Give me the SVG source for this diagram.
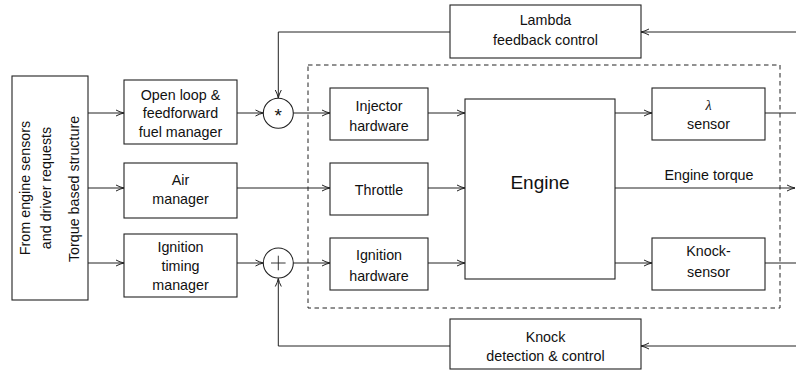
<svg xmlns="http://www.w3.org/2000/svg" width="796" height="372" viewBox="0 0 796 372">
<defs>
<marker id="arr" markerUnits="userSpaceOnUse" markerWidth="12" markerHeight="10" viewBox="-10 -5 12 10" refX="0" refY="0" orient="auto">
<path d="M-8,-3 Q-4,-0.8 0,0 Q-4,0.8 -8,3" fill="none" stroke="#222" stroke-width="1"/>
</marker>
</defs>
<style>
.box{fill:#fff;stroke:#222;stroke-width:1.1}
.t{font-family:"Liberation Sans",Arial,sans-serif;font-size:14.3px;fill:#111;text-anchor:middle}
.c{fill:none;stroke:#222;stroke-width:1}
.a{fill:none;stroke:#222;stroke-width:1;marker-end:url(#arr)}
</style>
<rect width="796" height="372" fill="#fff"/>
<g id="plant">
<rect x="308" y="65" width="472" height="243" fill="none" stroke="#222" stroke-width="1" stroke-dasharray="4.5,3.5"/>
</g>
<g id="connectors">
<line class="a" x1="88" y1="113" x2="124" y2="113"/>
<line class="a" x1="88" y1="188" x2="124" y2="188"/>
<line class="a" x1="88" y1="263" x2="124" y2="263"/>
<line class="a" x1="237" y1="113" x2="263.5" y2="113"/>
<line class="a" x1="237" y1="263" x2="263.5" y2="263"/>
<line class="a" x1="237" y1="188" x2="330" y2="188"/>
<line class="a" x1="293" y1="113" x2="330" y2="113"/>
<line class="a" x1="293" y1="263" x2="330" y2="263"/>
<line class="a" x1="428" y1="113" x2="465" y2="113"/>
<line class="a" x1="428" y1="188" x2="465" y2="188"/>
<line class="a" x1="428" y1="263" x2="465" y2="263"/>
<line class="a" x1="615" y1="113" x2="652" y2="113"/>
<line class="a" x1="615" y1="263" x2="652" y2="263"/>
<line class="a" x1="615" y1="188" x2="795" y2="188"/>
<line class="c" x1="765" y1="113" x2="796" y2="113"/>
<line class="c" x1="765" y1="263" x2="796" y2="263"/>
<line class="a" x1="796" y1="32" x2="641" y2="32"/>
<line class="a" x1="796" y1="346" x2="641" y2="346"/>
<polyline class="a" points="450,32 278.3,32 278.3,98"/>
<polyline class="a" points="450,346 278.3,346 278.3,278.5"/>
</g>
<g id="source">
<rect class="box" x="12" y="76" width="76" height="224"/>
<text class="t" transform="translate(30,188) rotate(-90)">From engine sensors</text>
<text class="t" transform="translate(51,188) rotate(-90)">and driver requests</text>
<text class="t" transform="translate(79,189) rotate(-90)">Torque based structure</text>
</g>
<g id="openloop">
<rect class="box" x="124" y="80" width="113" height="64"/>
<text class="t" x="180.5" y="100">Open loop &amp;</text>
<text class="t" x="180.5" y="118">feedforward</text>
<text class="t" x="180.5" y="136.5">fuel manager</text>
</g>
<g id="airmanager">
<rect class="box" x="124" y="163" width="113" height="55"/>
<text class="t" x="180.5" y="185">Air</text>
<text class="t" x="180.5" y="203.5">manager</text>
</g>
<g id="ignitiontiming">
<rect class="box" x="124" y="234" width="113" height="63"/>
<text class="t" x="180.5" y="252">Ignition</text>
<text class="t" x="180.5" y="271">timing</text>
<text class="t" x="180.5" y="290">manager</text>
</g>
<g id="mult">
<circle cx="278.3" cy="113.3" r="15" fill="#fff" stroke="#222" stroke-width="1.1"/>
<text class="t" x="278.3" y="122" style="font-size:19px">*</text>
</g>
<g id="sum">
<circle cx="278.3" cy="263" r="15" fill="#fff" stroke="#222" stroke-width="1.1"/>
<line x1="271" y1="263" x2="285.6" y2="263" stroke="#222" stroke-width="0.9"/>
<line x1="278.3" y1="255.7" x2="278.3" y2="270.3" stroke="#222" stroke-width="0.9"/>
</g>
<g id="lambdafb">
<rect class="box" x="450" y="5" width="191" height="53"/>
<text class="t" x="545.5" y="25">Lambda</text>
<text class="t" x="545.5" y="45">feedback control</text>
</g>
<g id="injector">
<rect class="box" x="330" y="88" width="98" height="52"/>
<text class="t" x="379" y="110.5">Injector</text>
<text class="t" x="379" y="131">hardware</text>
</g>
<g id="throttle">
<rect class="box" x="330" y="163" width="98" height="52"/>
<text class="t" x="379" y="194.5">Throttle</text>
</g>
<g id="ignitionhw">
<rect class="box" x="330" y="238" width="98" height="52"/>
<text class="t" x="379" y="259.5">Ignition</text>
<text class="t" x="379" y="281">hardware</text>
</g>
<g id="engine">
<rect class="box" x="465" y="99" width="150" height="180"/>
<text class="t" x="540" y="189" style="font-size:19px">Engine</text>
</g>
<g id="lambdasensor">
<rect class="box" x="652" y="88" width="113" height="52"/>
<text class="t" x="708.5" y="110" style="font-family:'Liberation Serif',serif;font-style:italic">λ</text>
<text class="t" x="708.5" y="129">sensor</text>
</g>
<g id="knocksensor">
<rect class="box" x="652" y="238" width="113" height="52"/>
<text class="t" x="708.5" y="256">Knock-</text>
<text class="t" x="708.5" y="276.5">sensor</text>
</g>
<g id="torque">
<text class="t" x="709" y="180">Engine torque</text>
</g>
<g id="knockctrl">
<rect class="box" x="450" y="319" width="191" height="50"/>
<text class="t" x="545.5" y="342">Knock</text>
<text class="t" x="545.5" y="361">detection &amp; control</text>
</g>
</svg>
